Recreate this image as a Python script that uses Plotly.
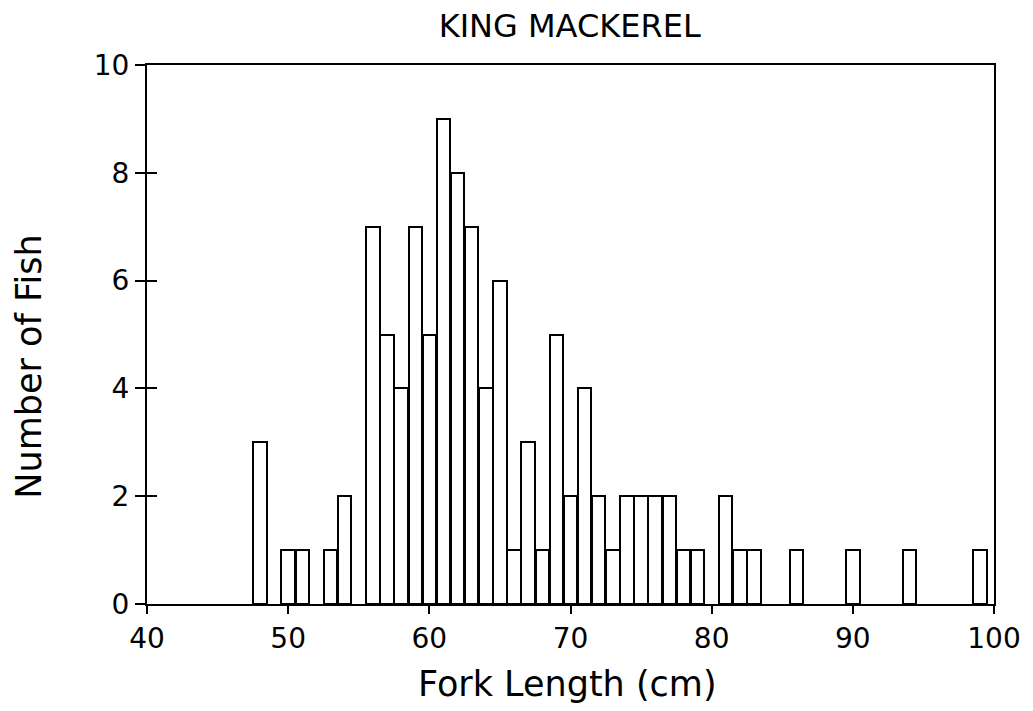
import plotly.graph_objects as go

fork_length_cm = [48, 50, 51, 53, 54, 56, 57, 58, 59, 60, 61, 62, 63, 64, 65,
                  66, 67, 68, 69, 70, 71, 72, 73, 74, 75, 76, 77, 78, 79,
                  81, 82, 83, 86, 90, 94, 99]
number_of_fish = [3, 1, 1, 1, 2, 7, 5, 4, 7, 5, 9, 8, 7, 4, 6,
                  1, 3, 1, 5, 2, 4, 2, 1, 2, 2, 2, 2, 1, 1,
                  2, 1, 1, 1, 1, 1, 1]
x_ticks = [40, 50, 60, 70, 80, 90, 100]
y_ticks = [0, 2, 4, 6, 8, 10]

FONT = "DejaVu Sans"

fig = go.Figure()
fig.add_trace(go.Bar(
    x=fork_length_cm, y=number_of_fish, width=0.95,
    marker=dict(color="white", line=dict(color="black", width=2)),
    showlegend=False,
))
# invisible trace to drive the inner tick axis
fig.add_trace(go.Scatter(x=[40], y=[0], yaxis="y2", mode="markers",
                         marker=dict(opacity=0), showlegend=False, hoverinfo="skip"))

fig.update_layout(
    width=1025, height=703,
    margin=dict(l=139, r=29, t=57, b=107),
    paper_bgcolor="white", plot_bgcolor="white",
    font=dict(family=FONT, color="black"),
    title=dict(text="KING MACKEREL", x=0.548, xanchor="center",
               yref="container", y=0.974, yanchor="middle",
               font=dict(size=32, family=FONT, color="black")),
    bargap=0,
    xaxis=dict(range=[40, 100], tickvals=x_ticks, ticks="outside", ticklen=8,
               tickwidth=2, tickcolor="black", showgrid=False, zeroline=False,
               showline=True, linecolor="black", linewidth=2, mirror=True,
               tickfont=dict(size=28, family=FONT)),
    yaxis=dict(range=[0, 10], tickvals=y_ticks, ticks="outside", ticklen=10,
               tickwidth=2, tickcolor="black", showgrid=False, zeroline=False,
               showline=True, linecolor="black", linewidth=2, mirror=True,
               tickfont=dict(size=28, family=FONT)),
    yaxis2=dict(range=[0, 10], tickvals=y_ticks, ticks="inside", ticklen=10,
                tickwidth=2, tickcolor="black", showticklabels=False, showgrid=False,
                zeroline=False, overlaying="y", side="left", showline=False),
    annotations=[
        dict(text="Fork Length (cm)", xref="paper", yref="paper", x=0.497, y=-0.148,
             xanchor="center", yanchor="middle", showarrow=False,
             font=dict(size=35, family=FONT, color="black")),
        dict(text="Number of Fish", xref="paper", yref="paper", x=-0.1395, y=0.44,
             xanchor="center", yanchor="middle", showarrow=False, textangle=-90,
             font=dict(size=35, family=FONT, color="black")),
    ],
)

fig.write_html("out.html")
